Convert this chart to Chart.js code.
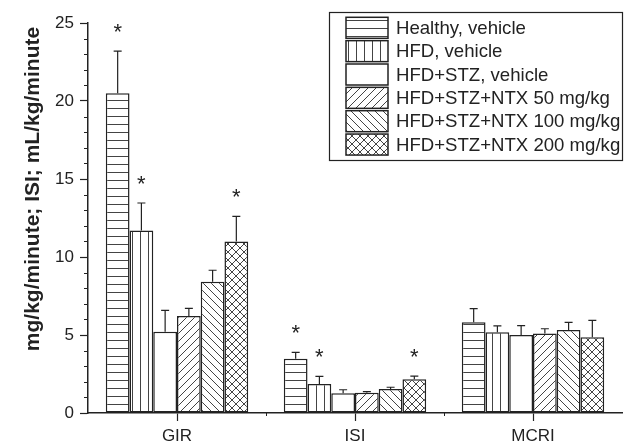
<!DOCTYPE html>
<html>
<head>
<meta charset="utf-8">
<script src="https://cdn.jsdelivr.net/npm/chart.js@4/dist/chart.umd.min.js"></script>
<style>
  html, body { margin: 0; padding: 0; background: #fff; }
  #wrap { width: 624px; height: 444px; }
</style>
</head>
<body>
<div id="wrap"><canvas id="barChart" width="624" height="444"></canvas></div>
<script>
// values
var categories = ['GIR', 'ISI', 'MCRI'];
var groupLabels = [
  'Healthy, vehicle',
  'HFD, vehicle',
  'HFD+STZ, vehicle',
  'HFD+STZ+NTX 50 mg/kg',
  'HFD+STZ+NTX 100 mg/kg',
  'HFD+STZ+NTX 200 mg/kg'
];
var healthy    = [20.5, 3.48, 5.81];
var hfd        = [11.7, 1.86, 5.17];
var hfdStz     = [5.21, 1.26, 5.00];
var ntx50      = [6.22, 1.30, 5.10];
var ntx100     = [8.42, 1.54, 5.32];
var ntx200     = [11.0, 2.16, 4.85];

var healthyErr = [2.70, 0.41, 0.88];
var hfdErr     = [1.76, 0.49, 0.41];
var hfdStzErr  = [1.37, 0.23, 0.60];
var ntx50Err   = [0.49, 0.07, 0.30];
var ntx100Err  = [0.73, 0.11, 0.49];
var ntx200Err  = [1.60, 0.21, 1.09];

// * = significant
var healthySig = [1, 1, 0];
var hfdSig     = [1, 1, 0];
var noSig      = [0, 0, 0];
var ntx200Sig  = [1, 1, 0];

var yTicks = [0, 5, 10, 15, 20, 25];

var INK = '#222';
var HATCH = '#444';

function makePattern(kind) {
  var c = document.createElement('canvas');
  c.width = 8; c.height = 8;
  var g = c.getContext('2d');
  g.fillStyle = '#fff';
  g.fillRect(0, 0, 8, 8);
  if (kind === 'none') return g.createPattern(c, 'repeat');
  g.strokeStyle = HATCH;
  g.lineWidth = 1;
  g.beginPath();
  if (kind === 'h') { g.moveTo(0, 4.5); g.lineTo(8, 4.5); }
  if (kind === 'v') { g.moveTo(4.5, 0); g.lineTo(4.5, 8); }
  if (kind === '/' || kind === 'x') {
    g.moveTo(-1, 9); g.lineTo(9, -1);
    g.moveTo(-1, 1); g.lineTo(1, -1);
    g.moveTo(7, 9); g.lineTo(9, 7);
  }
  if (kind === '\\' || kind === 'x') {
    g.moveTo(-1, -1); g.lineTo(9, 9);
    g.moveTo(7, -1); g.lineTo(9, 1);
    g.moveTo(-1, 7); g.lineTo(1, 9);
  }
  g.stroke();
  return g.createPattern(c, 'repeat');
}

var groups = [
  { data: healthy, err: healthyErr, sig: healthySig, fill: 'h' },
  { data: hfd,     err: hfdErr,     sig: hfdSig,     fill: 'v' },
  { data: hfdStz,  err: hfdStzErr,  sig: noSig,      fill: 'none' },
  { data: ntx50,   err: ntx50Err,   sig: noSig,      fill: '/' },
  { data: ntx100,  err: ntx100Err,  sig: noSig,      fill: '\\' },
  { data: ntx200,  err: ntx200Err,  sig: ntx200Sig,  fill: 'x' }
];

var datasets = groups.map(function (gr, i) {
  return {
    label: groupLabels[i],
    data: gr.data,
    errors: gr.err,
    sig: gr.sig,
    backgroundColor: makePattern(gr.fill),
    borderColor: INK,
    borderWidth: 1.5,
    borderSkipped: false,
    categoryPercentage: 0.8,
    barPercentage: 1.0
  };
});

// error bars (up only), stars, minor ticks, y title, legend box
var extras = {
  id: 'extras',
  afterDatasetsDraw: function (chart) {
    var ctx = chart.ctx;
    var y = chart.scales.y;
    ctx.save();
    chart.data.datasets.forEach(function (ds, di) {
      var meta = chart.getDatasetMeta(di);
      meta.data.forEach(function (bar, i) {
        var top = y.getPixelForValue(ds.data[i] + ds.errors[i]);
        ctx.strokeStyle = INK;
        ctx.lineWidth = 1.2;
        ctx.beginPath();
        ctx.moveTo(bar.x, bar.y);
        ctx.lineTo(bar.x, top);
        ctx.moveTo(bar.x - 4, top);
        ctx.lineTo(bar.x + 4, top);
        ctx.stroke();
        if (ds.sig[i]) {
          ctx.fillStyle = INK;
          ctx.font = '22px "Liberation Sans", Arial, sans-serif';
          ctx.textAlign = 'center';
          ctx.textBaseline = 'alphabetic';
          ctx.fillText('*', bar.x, top - 12);
        }
      });
    });
    ctx.restore();
  },
  afterDraw: function (chart) {
    var ctx = chart.ctx;
    var y = chart.scales.y;
    var x = chart.scales.x;
    var area = chart.chartArea;
    ctx.save();
    ctx.strokeStyle = INK;
    ctx.lineWidth = 1;
    ctx.beginPath();
    for (var v = 0; v <= 25; v++) {
      if (v % 5 === 0) continue;
      var py = Math.round(y.getPixelForValue(v)) + 0.5;
      ctx.moveTo(area.left - 4, py);
      ctx.lineTo(area.left, py);
    }
    for (var k = 0; k < categories.length - 1; k++) {
      var px = Math.round((x.getPixelForValue(k) + x.getPixelForValue(k + 1)) / 2) + 0.5;
      ctx.moveTo(px, area.bottom);
      ctx.lineTo(px, area.bottom + 3);
    }
    ctx.stroke();

    // y axis title
    ctx.fillStyle = INK;
    ctx.font = 'bold 21px "Liberation Sans", Arial, sans-serif';
    ctx.textAlign = 'center';
    ctx.textBaseline = 'middle';
    ctx.translate(33, 189);
    ctx.rotate(-Math.PI / 2);
    ctx.fillText('mg/kg/minute; ISI; mL/kg/minute', 0, 0);
    ctx.restore();

    // legend
    ctx.save();
    ctx.strokeStyle = INK;
    ctx.lineWidth = 1.2;
    ctx.fillStyle = '#fff';
    ctx.fillRect(329.5, 12.5, 293, 148);
    ctx.strokeRect(329.5, 12.5, 293, 148);
    ctx.font = '18.6px "Liberation Sans", Arial, sans-serif';
    ctx.textAlign = 'left';
    ctx.textBaseline = 'middle';
    chart.data.datasets.forEach(function (ds, i) {
      var cy = 27.8 + i * 23.35;
      ctx.fillStyle = ds.backgroundColor;
      ctx.fillRect(346, cy - 10.5, 42, 21);
      ctx.lineWidth = 1.5;
      ctx.strokeRect(346, cy - 10.5, 42, 21);
      ctx.fillStyle = INK;
      ctx.fillText(ds.label, 396, cy + 1);
    });
    ctx.restore();
  }
};

var ctx = document.getElementById('barChart').getContext('2d');
var chart = new Chart(ctx, {
  type: 'bar',
  data: { labels: categories, datasets: datasets },
  options: {
    responsive: false,
    animation: false,
    layout: { padding: { top: 23, right: 2, left: 0, bottom: 0 } },
    plugins: { legend: { display: false }, tooltip: { enabled: false } },
    scales: {
      x: {
        grid: { offset: false, drawOnChartArea: false, tickLength: 8, tickColor: INK, tickWidth: 1.2 },
        border: { color: INK, width: 1.5 },
        ticks: { color: INK, padding: 5, font: { family: '"Liberation Sans", Arial', size: 17 } },
        afterFit: function (s) { s.height = 31; }
      },
      y: {
        min: 0,
        max: 25,
        afterBuildTicks: function (s) { s.ticks = yTicks.map(function (v) { return { value: v }; }); },
        grid: { drawOnChartArea: false, tickLength: 8, tickColor: INK, tickWidth: 1.2 },
        border: { color: INK, width: 1.5 },
        ticks: { color: INK, padding: 6, font: { family: '"Liberation Sans", Arial', size: 17 } },
        afterFit: function (s) { s.width = 88; }
      }
    }
  },
  plugins: [extras]
});
</script>
</body>
</html>
